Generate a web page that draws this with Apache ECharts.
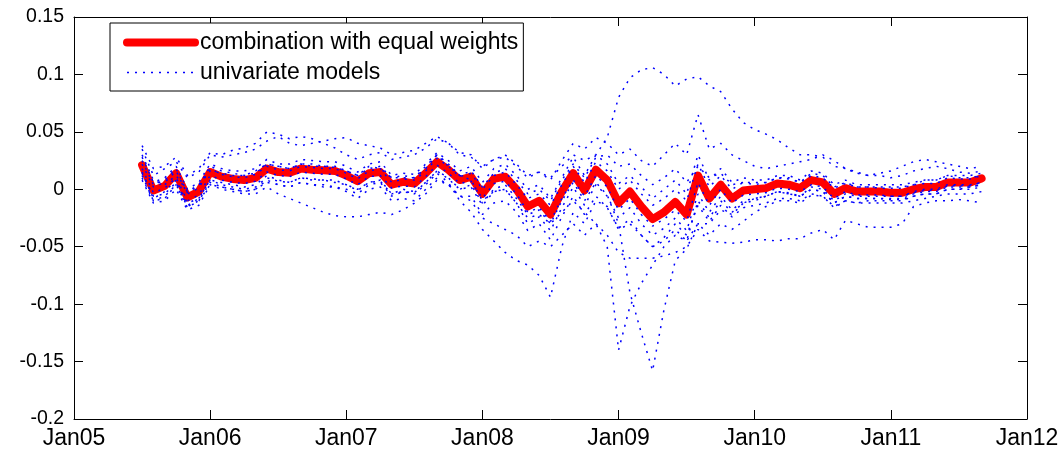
<!DOCTYPE html>
<html>
<head>
<meta charset="utf-8">
<script src="https://cdn.jsdelivr.net/npm/echarts@6/dist/echarts.min.js"></script>
<style>
html, body { margin: 0; padding: 0; background: #fff; }
#chart { width: 1064px; height: 454px; }
</style>
</head>
<body>
<div id="chart"></div>
<script>
// x axis: months since Jan05, one tick per year
var xTickLabels = ['Jan05', 'Jan06', 'Jan07', 'Jan08', 'Jan09', 'Jan10', 'Jan11', 'Jan12'];
var firstMonth = 6; // first observation = Jul05

// combination with equal weights, Jul05 .. Sep11 (75 months)
var combination = [
    0.021, -0.001, 0.003, 0.014, -0.007, -0.002, 0.015, 0.011, 0.009, 0.008,
    0.010, 0.018, 0.015, 0.0145, 0.018, 0.017, 0.0165, 0.016, 0.012, 0.007,
    0.014, 0.015, 0.004, 0.0065, 0.005, 0.014, 0.024, 0.017, 0.008, 0.011,
    -0.004, 0.009, 0.011, 0.000, -0.015, -0.010, -0.022, -0.002, 0.014, -0.001,
    0.017, 0.008, -0.012, -0.002, -0.015, -0.026, -0.020, -0.011, -0.022, 0.012,
    -0.008, 0.004, -0.008, -0.001, 0.000, 0.001, 0.005, 0.004, 0.001, 0.008,
    0.006, -0.004, 0.001, -0.002, -0.002, -0.002, -0.003, -0.003, 0.000, 0.002,
    0.002, 0.006, 0.006, 0.006, 0.0095
];

// univariate models
var uni1 = [
    0.035, 0.012, 0.018, 0.024, 0.010, 0.015, 0.030, 0.028, 0.030, 0.032,
    0.035, 0.042, 0.046, 0.040, 0.038, 0.040, 0.042, 0.044, 0.045, 0.040,
    0.038, 0.036, 0.030, 0.032, 0.034, 0.040, 0.046, 0.040, 0.030, 0.028,
    0.020, 0.026, 0.030, 0.022, 0.012, 0.015, 0.010, 0.020, 0.030, 0.025,
    0.030, 0.045, 0.080, 0.097, 0.104, 0.106, 0.100, 0.090, 0.096, 0.098,
    0.090, 0.085, 0.070, 0.058, 0.052, 0.048, 0.043, 0.036, 0.030, 0.030,
    0.028, 0.020, 0.018, 0.015, 0.012, 0.012, 0.010, 0.012, 0.016, 0.018,
    0.020, 0.018, 0.015, 0.014, 0.016
];
var uni2 = [
    0.015, -0.008, -0.002, 0.008, -0.012, -0.008, 0.008, 0.006, 0.004, 0.002,
    0.004, 0.012, 0.008, 0.006, 0.010, 0.008, 0.008, 0.006, 0.004, 0.000,
    0.006, 0.008, -0.004, 0.000, -0.002, 0.006, 0.016, 0.010, 0.000, 0.004,
    -0.012, 0.000, 0.004, -0.008, -0.022, -0.018, -0.030, -0.010, 0.006, -0.010,
    0.006, -0.005, -0.030, -0.090, -0.125, -0.158, -0.105, -0.062, -0.052, -0.030,
    -0.030, -0.018, -0.022, -0.012, -0.010, -0.006, -0.002, -0.004, -0.006, 0.000,
    -0.002, -0.012, -0.006, -0.008, -0.008, -0.008, -0.008, -0.008, -0.004, -0.002,
    -0.002, 0.002, 0.002, 0.002, 0.004
];
var uni3 = [
    0.025, 0.004, 0.008, 0.018, -0.003, 0.003, 0.020, 0.016, 0.014, 0.012,
    0.014, 0.022, 0.020, 0.018, 0.022, 0.022, 0.020, 0.020, 0.016, 0.012,
    0.018, 0.020, 0.010, 0.012, 0.010, 0.018, 0.030, 0.022, 0.012, 0.008,
    -0.010, -0.002, 0.000, -0.012, -0.025, -0.022, -0.030, -0.020, -0.010, -0.020,
    -0.030, -0.050, -0.140, -0.102, -0.082, -0.066, -0.050, -0.040, -0.045, -0.030,
    -0.040, -0.030, -0.035, -0.028, -0.020, -0.015, -0.010, -0.010, -0.012, -0.005,
    -0.006, -0.015, -0.010, -0.012, -0.010, -0.010, -0.010, -0.010, -0.006, -0.004,
    -0.004, 0.000, 0.000, 0.002, 0.004
];
var uni4 = [
    0.010, -0.010, -0.006, 0.004, -0.015, -0.010, 0.006, 0.002, 0.000, -0.002,
    0.000, 0.008, 0.004, 0.002, 0.006, 0.004, 0.004, 0.002, 0.000, -0.004,
    0.004, 0.006, -0.006, -0.002, -0.004, 0.004, 0.014, 0.006, -0.010, -0.020,
    -0.035, -0.045, -0.055, -0.062, -0.066, -0.075, -0.094, -0.050, -0.020, -0.030,
    -0.010, -0.015, -0.035, -0.030, -0.040, -0.050, -0.045, -0.035, -0.045, -0.010,
    -0.025, -0.010, -0.020, -0.012, -0.008, -0.006, -0.002, -0.004, -0.006, 0.002,
    0.000, -0.010, -0.004, -0.006, -0.006, -0.006, -0.006, -0.006, -0.002, 0.000,
    0.000, 0.004, 0.004, 0.004, 0.006
];
var uni5 = [
    0.008, -0.012, -0.010, 0.000, -0.018, -0.014, 0.004, 0.000, -0.002, -0.004,
    -0.004, 0.002, -0.004, -0.008, -0.012, -0.016, -0.020, -0.023, -0.024, -0.024,
    -0.022, -0.020, -0.022, -0.018, -0.012, -0.004, 0.008, 0.004, -0.006, -0.010,
    -0.025, -0.030, -0.035, -0.040, -0.050, -0.045, -0.050, -0.040, -0.030, -0.040,
    -0.030, -0.040, -0.055, -0.060, -0.060, -0.060, -0.058, -0.055, -0.050, -0.035,
    -0.045, -0.046, -0.047, -0.046, -0.044, -0.044, -0.045, -0.043, -0.043, -0.038,
    -0.035, -0.044, -0.027, -0.030, -0.033, -0.033, -0.033, -0.030, -0.015, -0.012,
    -0.010, -0.010, -0.009, -0.010, -0.012
];
var uni6 = [
    0.038, 0.018, 0.020, 0.028, 0.012, 0.018, 0.032, 0.030, 0.034, 0.036,
    0.040, 0.050, 0.048, 0.044, 0.046, 0.044, 0.040, 0.036, 0.030, 0.026,
    0.030, 0.032, 0.026, 0.028, 0.030, 0.036, 0.044, 0.040, 0.032, 0.030,
    0.018, 0.026, 0.028, 0.020, 0.010, 0.015, 0.008, 0.025, 0.040, 0.035,
    0.045, 0.040, 0.030, 0.035, 0.025, 0.020, 0.030, 0.040, 0.030, 0.065,
    0.035, 0.040, 0.030, 0.025, 0.020, 0.018, 0.020, 0.022, 0.024, 0.026,
    0.030, 0.025, 0.018, 0.014, 0.012, 0.014, 0.016, 0.020, 0.024, 0.026,
    0.024, 0.022, 0.020, 0.018, 0.020
];
var uni7 = [
    0.028, 0.006, 0.010, 0.020, 0.000, 0.006, 0.022, 0.018, 0.016, 0.016,
    0.018, 0.026, 0.022, 0.022, 0.026, 0.025, 0.024, 0.024, 0.020, 0.015,
    0.022, 0.024, 0.012, 0.014, 0.013, 0.022, 0.032, 0.025, 0.016, 0.020,
    0.006, 0.018, 0.022, 0.012, 0.000, 0.004, -0.008, 0.010, 0.028, 0.012,
    0.030, 0.022, 0.005, 0.012, 0.002, -0.008, 0.000, 0.008, -0.004, 0.030,
    0.008, 0.018, 0.006, 0.010, 0.008, 0.008, 0.012, 0.012, 0.008, 0.016,
    0.014, 0.004, 0.008, 0.004, 0.004, 0.004, 0.004, 0.004, 0.006, 0.008,
    0.008, 0.012, 0.012, 0.012, 0.014
];
var uni8 = [
    0.014, -0.006, -0.004, 0.006, -0.014, -0.008, 0.008, 0.004, 0.002, 0.000,
    0.002, 0.010, 0.007, 0.006, 0.010, 0.009, 0.008, 0.008, 0.004, -0.001,
    0.006, 0.007, -0.004, -0.002, -0.003, 0.006, 0.016, 0.009, 0.000, 0.002,
    -0.014, -0.002, 0.000, -0.012, -0.030, -0.024, -0.036, -0.016, 0.002, -0.014,
    0.004, -0.006, -0.025, -0.016, -0.030, -0.040, -0.034, -0.025, -0.036, -0.004,
    -0.020, -0.006, -0.018, -0.010, -0.008, -0.006, -0.002, -0.003, -0.006, 0.000,
    -0.002, -0.012, -0.006, -0.008, -0.008, -0.008, -0.009, -0.009, -0.006, -0.004,
    -0.004, 0.000, 0.000, 0.000, 0.002
];
var uni9 = [
    0.022, 0.002, 0.006, 0.016, -0.004, 0.001, 0.018, 0.013, 0.011, 0.010,
    0.013, 0.020, 0.017, 0.016, 0.020, 0.019, 0.018, 0.018, 0.014, 0.009,
    0.016, 0.018, 0.006, 0.009, 0.008, 0.016, 0.027, 0.020, 0.011, 0.014,
    0.000, 0.012, 0.015, 0.004, -0.008, -0.004, -0.014, 0.004, 0.020, 0.006,
    0.024, 0.016, 0.000, 0.008, -0.004, -0.014, -0.008, 0.000, -0.010, 0.022,
    0.002, 0.012, 0.000, 0.006, 0.006, 0.006, 0.010, 0.009, 0.006, 0.012,
    0.010, 0.001, 0.005, 0.002, 0.002, 0.001, 0.001, 0.001, 0.004, 0.005,
    0.005, 0.010, 0.009, 0.009, 0.012
];
var uni10 = [
    0.018, -0.003, 0.001, 0.010, -0.010, -0.005, 0.012, 0.008, 0.006, 0.005,
    0.007, 0.015, 0.012, 0.011, 0.015, 0.014, 0.013, 0.013, 0.009, 0.004,
    0.011, 0.012, 0.001, 0.003, 0.002, 0.011, 0.021, 0.014, 0.005, 0.007,
    -0.008, 0.005, 0.007, -0.004, -0.020, -0.016, -0.028, -0.008, 0.008, -0.006,
    0.012, 0.002, -0.018, -0.008, -0.022, -0.032, -0.026, -0.018, -0.028, 0.006,
    -0.014, 0.000, -0.012, -0.005, -0.004, -0.003, 0.001, 0.000, -0.002, 0.004,
    0.002, -0.008, -0.002, -0.005, -0.005, -0.005, -0.006, -0.006, -0.003, -0.001,
    -0.001, 0.003, 0.003, 0.003, 0.006
];
var uni11 = [
    0.030, 0.008, 0.004, 0.012, -0.002, 0.004, 0.016, 0.014, 0.012, 0.012,
    0.016, 0.022, 0.020, 0.018, 0.022, 0.020, 0.020, 0.019, 0.016, 0.012,
    0.020, 0.018, 0.010, 0.010, 0.010, 0.020, 0.030, 0.020, 0.012, 0.016,
    0.002, 0.014, 0.018, 0.008, -0.004, 0.000, -0.010, 0.008, 0.022, 0.010,
    0.028, 0.030, 0.020, 0.022, 0.012, 0.004, 0.010, 0.018, 0.006, 0.020,
    0.010, 0.014, 0.004, 0.006, 0.004, 0.006, 0.010, 0.010, 0.006, 0.014,
    0.012, 0.002, 0.006, 0.002, 0.002, 0.002, 0.002, 0.002, 0.004, 0.008,
    0.008, 0.012, 0.010, 0.010, 0.012
];
var uni12 = [
    0.012, -0.010, -0.008, 0.004, -0.016, -0.010, 0.004, 0.002, 0.000, -0.002,
    0.000, 0.006, 0.004, 0.002, 0.006, 0.004, 0.002, 0.002, -0.002, -0.008,
    0.000, 0.002, -0.010, -0.008, -0.010, 0.000, 0.010, 0.004, -0.006, -0.006,
    -0.022, -0.012, -0.010, -0.020, -0.036, -0.030, -0.044, -0.024, -0.006, -0.022,
    -0.006, -0.016, -0.034, -0.026, -0.040, -0.050, -0.042, -0.030, -0.040, -0.014,
    -0.028, -0.014, -0.024, -0.016, -0.014, -0.012, -0.008, -0.008, -0.010, -0.004,
    -0.006, -0.016, -0.010, -0.012, -0.012, -0.012, -0.012, -0.012, -0.010, -0.008,
    -0.006, -0.004, -0.004, -0.004, -0.002
];
var univariate = [uni1, uni2, uni3, uni4, uni5, uni6, uni7, uni8, uni9, uni10, uni11, uni12];

function toPoints(arr) {
    return arr.map(function (v, i) { return [firstMonth + i, v]; });
}

var font = 'Liberation Sans, Arial, Helvetica, sans-serif';
var myChart = echarts.init(document.getElementById('chart'));

var series = [{
    name: 'combination with equal weights',
    type: 'line',
    symbol: 'none',
    data: toPoints(combination),
    lineStyle: { color: '#ff0000', width: 8, join: 'round', cap: 'round' },
    itemStyle: { color: '#ff0000' },
    z: 2
}];
univariate.forEach(function (u) {
    series.push({
        name: 'univariate models',
        type: 'line',
        symbol: 'none',
        data: toPoints(u),
        lineStyle: { color: '#0000ff', width: 1.5, type: [2, 6] },
        itemStyle: { color: '#0000ff' },
        z: 3
    });
});

// box axes: ticks point into the plot on all four sides
function frameAxis(extra) {
    return Object.assign({
        axisLine: { show: true, onZero: false, lineStyle: { color: '#000', width: 1 } },
        axisTick: { show: true, inside: true, length: 9, lineStyle: { color: '#000', width: 1 } },
        splitLine: { show: false },
        z: 10
    }, extra);
}

option = {
    animation: false,
    backgroundColor: '#fff',
    grid: { left: 74, right: 37, top: 17, bottom: 35, containLabel: false },
    legend: {
        data: ['combination with equal weights', 'univariate models'],
        orient: 'vertical',
        left: 110,
        top: 23,
        itemWidth: 68,
        itemHeight: 14,
        itemGap: 7,
        padding: [8, 5, 7, 13],
        borderColor: '#000',
        borderWidth: 1,
        borderRadius: 0,
        backgroundColor: '#fff',
        itemStyle: { opacity: 0 },
        lineStyle: { width: 'inherit' },
        textStyle: { fontSize: 23, color: '#000', fontFamily: font },
        z: 20
    },
    xAxis: [
        frameAxis({
            type: 'value', min: 0, max: 84, interval: 12,
            axisLabel: {
                fontSize: 23, color: '#000', fontFamily: font, margin: 8,
                formatter: function (v) { return xTickLabels[v / 12]; }
            }
        }),
        frameAxis({
            type: 'value', min: 0, max: 84, interval: 12, position: 'top',
            axisLabel: { show: false }
        })
    ],
    yAxis: [
        frameAxis({
            type: 'value', min: -0.2, max: 0.15, interval: 0.05,
            axisLabel: {
                fontSize: 19.5, color: '#000', fontFamily: font, margin: 10,
                formatter: function (v) { return String(parseFloat(v.toFixed(2))); }
            }
        }),
        frameAxis({
            type: 'value', min: -0.2, max: 0.15, interval: 0.05, position: 'right',
            axisLabel: { show: false }
        })
    ],
    series: series
};

myChart.setOption(option);
</script>
</body>
</html>
